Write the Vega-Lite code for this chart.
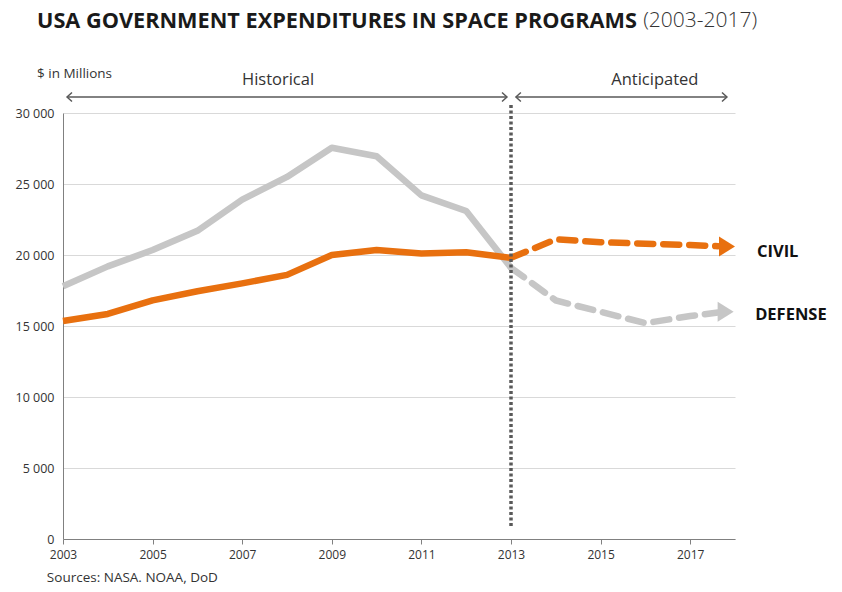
{
  "$schema": "https://vega.github.io/schema/vega-lite/v6.json",
  "width": 672,
  "height": 426,
  "autosize": {"type": "none"},
  "padding": {"left": 63, "top": 113, "right": 107, "bottom": 53},
  "background": "white",
  "config": {"view": {"stroke": null}, "font": "Open Sans"},
  "datasets": {
    "lines": [
      {"series": "Defense", "phase": "hist", "year": 2003, "value": 17800},
      {"series": "Defense", "phase": "hist", "year": 2004, "value": 19200},
      {"series": "Defense", "phase": "hist", "year": 2005, "value": 20350},
      {"series": "Defense", "phase": "hist", "year": 2006, "value": 21700},
      {"series": "Defense", "phase": "hist", "year": 2007, "value": 23900},
      {"series": "Defense", "phase": "hist", "year": 2008, "value": 25500},
      {"series": "Defense", "phase": "hist", "year": 2009, "value": 27550},
      {"series": "Defense", "phase": "hist", "year": 2010, "value": 26950},
      {"series": "Defense", "phase": "hist", "year": 2011, "value": 24200},
      {"series": "Defense", "phase": "hist", "year": 2012, "value": 23100},
      {"series": "Defense", "phase": "hist", "year": 2013, "value": 19100},
      {"series": "Defense", "phase": "proj", "year": 2013, "value": 19100},
      {"series": "Defense", "phase": "proj", "year": 2014, "value": 16800},
      {"series": "Defense", "phase": "proj", "year": 2015, "value": 16000},
      {"series": "Defense", "phase": "proj", "year": 2016, "value": 15200},
      {"series": "Defense", "phase": "proj", "year": 2017, "value": 15700},
      {"series": "Defense", "phase": "proj", "year": 2017.62, "value": 15950},
      {"series": "Civil", "phase": "hist", "year": 2003, "value": 15350},
      {"series": "Civil", "phase": "hist", "year": 2004, "value": 15850},
      {"series": "Civil", "phase": "hist", "year": 2005, "value": 16800},
      {"series": "Civil", "phase": "hist", "year": 2006, "value": 17450},
      {"series": "Civil", "phase": "hist", "year": 2007, "value": 18000},
      {"series": "Civil", "phase": "hist", "year": 2008, "value": 18600},
      {"series": "Civil", "phase": "hist", "year": 2009, "value": 20000},
      {"series": "Civil", "phase": "hist", "year": 2010, "value": 20350},
      {"series": "Civil", "phase": "hist", "year": 2011, "value": 20100},
      {"series": "Civil", "phase": "hist", "year": 2012, "value": 20200},
      {"series": "Civil", "phase": "hist", "year": 2013, "value": 19800},
      {"series": "Civil", "phase": "proj", "year": 2013, "value": 19800},
      {"series": "Civil", "phase": "proj", "year": 2014, "value": 21100},
      {"series": "Civil", "phase": "proj", "year": 2015, "value": 20900},
      {"series": "Civil", "phase": "proj", "year": 2016, "value": 20800},
      {"series": "Civil", "phase": "proj", "year": 2017, "value": 20700},
      {"series": "Civil", "phase": "proj", "year": 2017.62, "value": 20620}
    ],
    "tips": [
      {"series": "Civil", "year": 2018, "value": 20600},
      {"series": "Defense", "year": 2017.97, "value": 16000}
    ],
    "divider": [
      {"year": 2013, "value": 30560, "value2": 780}
    ],
    "spans": [
      {"span": "Historical", "year": 2003.09, "year2": 2012.91, "value": 31130},
      {"span": "Anticipated", "year": 2013.11, "year2": 2017.82, "value": 31130}
    ],
    "heads": [
      {"side": "left", "year": 2003.09, "value": 31130},
      {"side": "right", "year": 2012.91, "value": 31130},
      {"side": "left", "year": 2013.11, "value": 31130},
      {"side": "right", "year": 2017.82, "value": 31130}
    ],
    "labels": [
      {"kind": "title", "label": "USA GOVERNMENT EXPENDITURES IN SPACE PROGRAMS", "year": 2002.42, "value": 36480},
      {"kind": "subtitle", "label": "(2003-2017)", "year": 2015.95, "value": 36480},
      {"kind": "unit", "label": "$ in Millions", "year": 2002.42, "value": 32750},
      {"kind": "phase", "label": "Historical", "year": 2007.8, "value": 32320},
      {"kind": "phase", "label": "Anticipated", "year": 2016.21, "value": 32320},
      {"kind": "series", "label": "CIVIL", "year": 2018.49, "value": 20210},
      {"kind": "series", "label": "DEFENSE", "year": 2018.45, "value": 15780},
      {"kind": "source", "label": "Sources: NASA. NOAA, DoD", "year": 2002.64, "value": -2750}
    ]
  },
  "encoding": {
    "x": {
      "field": "year",
      "type": "quantitative",
      "scale": {"domain": [2003, 2018], "nice": false, "zero": false},
      "axis": {
        "values": [2003, 2005, 2007, 2009, 2011, 2013, 2015, 2017],
        "format": "d",
        "title": null,
        "grid": false,
        "labelFlush": false,
        "domainColor": "#808080",
        "tickColor": "#808080",
        "tickSize": 5,
        "labelFont": "Open Sans",
        "labelFontSize": 12,
        "labelColor": "#333333",
        "labelPadding": 5
      }
    },
    "y": {
      "field": "value",
      "type": "quantitative",
      "scale": {"domain": [0, 30000], "nice": false},
      "axis": {
        "values": [0, 5000, 10000, 15000, 20000, 25000, 30000],
        "labelExpr": "replace(format(datum.value, ','), ',', ' ')",
        "title": null,
        "grid": true,
        "labelFlush": false,
        "gridColor": "#d9d9d9",
        "ticks": false,
        "domainColor": "#808080",
        "labelFont": "Open Sans",
        "labelFontSize": 12.5,
        "labelColor": "#333333",
        "labelPadding": 9
      }
    }
  },
  "layer": [
    {
      "data": {"name": "lines"},
      "transform": [{"filter": "datum.phase == 'hist'"}],
      "mark": {"type": "line", "strokeWidth": 6.5, "strokeJoin": "round"},
      "encoding": {
        "color": {"field": "series", "type": "nominal", "scale": {"domain": ["Civil", "Defense"], "range": ["#E8700F", "#C6C6C6"]}, "legend": null},
        "order": {"field": "year", "type": "quantitative"}
      }
    },
    {
      "data": {"name": "lines"},
      "transform": [{"filter": "datum.phase == 'proj'"}],
      "mark": {"type": "line", "strokeWidth": 6.5, "strokeDash": [16, 10], "strokeCap": "round"},
      "encoding": {
        "color": {"field": "series", "type": "nominal", "legend": null},
        "order": {"field": "year", "type": "quantitative"}
      }
    },
    {
      "data": {"name": "tips"},
      "mark": {"type": "point", "shape": "M-1.6,-1L0,0L-1.6,1Z", "filled": true, "opacity": 1, "size": 400},
      "encoding": {
        "color": {"field": "series", "type": "nominal", "legend": null}
      }
    },
    {
      "data": {"name": "divider"},
      "mark": {"type": "rule", "color": "#595959", "strokeWidth": 3.5, "strokeDash": [3, 2.5]},
      "encoding": {"y2": {"field": "value2"}}
    },
    {
      "data": {"name": "spans"},
      "mark": {"type": "rule", "color": "#595959", "strokeWidth": 1.5},
      "encoding": {"x2": {"field": "year2"}}
    },
    {
      "data": {"name": "heads"},
      "transform": [{"filter": "datum.side == 'left'"}],
      "mark": {"type": "point", "shape": "M1.1,-1L0,0L1.1,1", "filled": false, "stroke": "#595959", "strokeWidth": 1.5, "opacity": 1, "size": 81}
    },
    {
      "data": {"name": "heads"},
      "transform": [{"filter": "datum.side == 'right'"}],
      "mark": {"type": "point", "shape": "M-1.1,-1L0,0L-1.1,1", "filled": false, "stroke": "#595959", "strokeWidth": 1.5, "opacity": 1, "size": 81}
    },
    {
      "data": {"name": "labels"},
      "transform": [{"filter": "datum.kind == 'title'"}],
      "mark": {"type": "text", "align": "left", "baseline": "middle", "font": "Open Sans", "fontWeight": "bold", "fontSize": 21.7, "color": "#1a1a1a"},
      "encoding": {"text": {"field": "label"}}
    },
    {
      "data": {"name": "labels"},
      "transform": [{"filter": "datum.kind == 'subtitle'"}],
      "mark": {"type": "text", "align": "left", "baseline": "middle", "font": "Open Sans", "fontWeight": 300, "fontSize": 21, "color": "#333333"},
      "encoding": {"text": {"field": "label"}}
    },
    {
      "data": {"name": "labels"},
      "transform": [{"filter": "datum.kind == 'unit' || datum.kind == 'source'"}],
      "mark": {"type": "text", "align": "left", "baseline": "middle", "font": "Open Sans", "fontSize": 13.5, "color": "#333333"},
      "encoding": {"text": {"field": "label"}}
    },
    {
      "data": {"name": "labels"},
      "transform": [{"filter": "datum.kind == 'phase'"}],
      "mark": {"type": "text", "align": "center", "baseline": "middle", "font": "Open Sans", "fontSize": 16.5, "color": "#333333"},
      "encoding": {"text": {"field": "label"}}
    },
    {
      "data": {"name": "labels"},
      "transform": [{"filter": "datum.kind == 'series'"}],
      "mark": {"type": "text", "align": "left", "baseline": "middle", "font": "Open Sans", "fontWeight": "bold", "fontSize": 16.5, "color": "#111111"},
      "encoding": {"text": {"field": "label"}}
    }
  ]
}
